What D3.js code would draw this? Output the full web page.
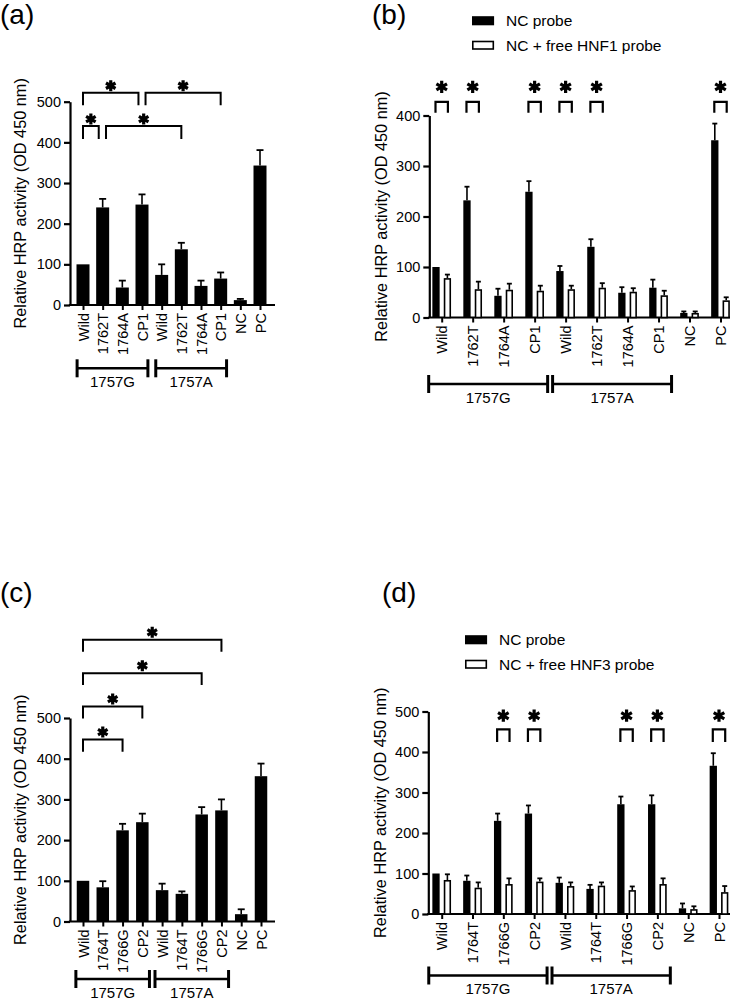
<!DOCTYPE html>
<html>
<head>
<meta charset="utf-8">
<script src="https://d3js.org/d3.v7.min.js"></script>
<style>
body { margin: 0; background: #fff; }
svg { display: block; font-family: "Liberation Sans", Arial, sans-serif; }
</style>
</head>
<body>
<svg id="chart" width="735" height="999"></svg>
<script>
/*
Values (relative HRP activity, OD 450 nm).
 */
var catsA = ["Wild", "1762T", "1764A", "CP1", "Wild", "1762T", "1764A", "CP1", "NC", "PC"];
var valsA = [100, 240, 43, 247, 74, 137, 47, 65, 12, 343];
var errA  = [0, 21, 17, 25, 26, 16, 13, 15, 3, 38];
// [from, to, bracket level, drop end] in category index / data units
var sigA  = [[0, 2.82, 522, 491], [3.18, 7, 522, 491], [0, 0.8, 440, 408], [1.17, 5, 440, 408]];

var catsB    = ["Wild", "1762T", "1764A", "CP1", "Wild", "1762T", "1764A", "CP1", "NC", "PC"];
var ncB      = [100, 232, 43, 249, 92, 140, 49, 59, 9, 351];
var ncErrB   = [0, 27, 14, 21, 10, 15, 11, 16, 3, 33];
var freeB    = [78, 56, 55, 53, 56, 59, 51, 44, 9, 34];
var freeErrB = [7, 15, 12, 10, 7, 9, 7, 9, 3, 6];
var sigB     = [0, 1, 3, 4, 5, 9];
var legendB  = ["NC probe", "NC + free HNF1 probe"];

var catsC = ["Wild", "1764T", "1766G", "CP2", "Wild", "1764T", "1766G", "CP2", "NC", "PC"];
var valsC = [100, 84, 224, 244, 77, 68, 263, 273, 18, 357];
var errC  = [0, 15, 16, 21, 16, 6, 18, 27, 12, 31];
var sigC  = [[0, 2, 447, 417], [0, 3, 528, 499], [0, 6, 610, 581], [0, 7, 692, 663]];

var catsD    = ["Wild", "1764T", "1766G", "CP2", "Wild", "1764T", "1766G", "CP2", "NC", "PC"];
var ncD      = [100, 82, 230, 248, 77, 62, 271, 271, 14, 366];
var ncErrD   = [0, 13, 18, 20, 13, 10, 19, 22, 12, 31];
var freeD    = [84, 65, 74, 80, 69, 70, 59, 74, 12, 54];
var freeErrD = [14, 13, 14, 8, 9, 8, 9, 14, 7, 15];
var sigD     = [2, 3, 6, 7, 9];
var legendD  = ["NC probe", "NC + free HNF3 probe"];

var groupNames = ["1757G", "1757A"];
var groupSpans = [[0, 3], [4, 7]];
var ticks500 = [0, 100, 200, 300, 400, 500];
var ticks400 = [0, 100, 200, 300, 400];
var yTitle = "Relative HRP activity (OD 450 nm)";

/*
Layout of each panel in pixels.
 */
var boxA = {tag: "(a)", tagX: 0, tagY: 24, x0: 70, x1: 275, cx: [83, 260], yBase: 305, yTop: 101.7,
            titleX: 20, groupY: 368.3, groupPad: 0.3, barW: 13, star: 85, starUp: 7};
var boxB = {tag: "(b)", tagX: 372, tagY: 24, x0: 429.3, x1: 730, cx: [441.7, 720.5], yBase: 317.5, yTop: 115.5,
            titleX: 381.5, groupY: 384, groupPad: 0.42, barW: 7.3, off: 5.7, star: 105, starUp: 15,
            legX: 472, legY: 21, sigTop: 427, sigDrop: 405.5};
var boxC = {tag: "(c)", tagX: 0, tagY: 602, x0: 70, x1: 275, cx: [83, 261], yBase: 921.5, yTop: 718,
            titleX: 20, groupY: 979, groupPad: 0.36, barW: 12.5, star: 85, starUp: 7.5};
var boxD = {tag: "(d)", tagX: 382, tagY: 602, x0: 428.3, x1: 730, cx: [441.7, 719], yBase: 914, yTop: 711.5,
            titleX: 380, groupY: 975.5, groupPad: 0.42, barW: 7.3, off: 5.7, star: 105, starUp: 13.6,
            legX: 465, legY: 640, sigTop: 456, sigDrop: 425};

var svg = d3.select("#chart");

/*
Axes, titles and group brackets shared by every panel.
 */
function drawFrame(box, cats, ymax, ticks) {
    var g = svg.append("g");
    var y = d3.scaleLinear().domain([0, ymax]).range([box.yBase, box.yTop]);
    var x = d3.scaleLinear().domain([0, cats.length - 1]).range(box.cx);

    g.append("text").attr("x", box.tagX).attr("y", box.tagY)
        .style("font-size", "28px").text(box.tag);

    var ya = g.append("g").attr("transform", "translate(" + box.x0 + ",0)")
        .call(d3.axisLeft(y).tickValues(ticks).tickSize(6).tickPadding(3).tickSizeOuter(0));
    ya.select(".domain").attr("stroke-width", 2.2);
    ya.selectAll(".tick line").attr("stroke-width", 2.2);
    ya.selectAll("text").style("font-size", "14.5px").attr("fill", "#000");

    var xa = g.append("g").attr("transform", "translate(0," + box.yBase + ")")
        .call(d3.axisBottom(x).tickValues(d3.range(cats.length))
            .tickFormat(function(i) { return cats[i]; }).tickSize(5).tickSizeOuter(0));
    xa.select(".domain").remove();
    xa.selectAll(".tick line").attr("stroke-width", 2);
    xa.selectAll("text")
        .attr("transform", "rotate(-90)")
        .attr("x", -8).attr("y", 0).attr("dy", "0.35em")
        .attr("text-anchor", "end")
        .style("font-size", "14.5px").attr("fill", "#000");
    g.append("line")
        .attr("x1", box.x0 - 1.1).attr("x2", box.x1)
        .attr("y1", box.yBase).attr("y2", box.yBase)
        .attr("stroke", "#000").attr("stroke-width", 2.2);

    g.append("text")
        .attr("transform", "translate(" + box.titleX + "," + ((box.yBase + box.yTop) / 2) + ") rotate(-90)")
        .attr("text-anchor", "middle").attr("dy", "0.35em")
        .style("font-size", "16.3px").text(yTitle);

    //Group brackets under the tick labels
    groupSpans.forEach(function(s, k) {
        var a = x(s[0] - box.groupPad), b = x(s[1] + box.groupPad);
        g.append("line").attr("x1", a).attr("x2", b)
            .attr("y1", box.groupY).attr("y2", box.groupY)
            .attr("stroke", "#000").attr("stroke-width", 2.5);
        [a, b].forEach(function(px) {
            g.append("line").attr("x1", px).attr("x2", px)
                .attr("y1", box.groupY - 9).attr("y2", box.groupY + 9)
                .attr("stroke", "#000").attr("stroke-width", 3);
        });
        g.append("text").attr("x", (a + b) / 2).attr("y", box.groupY + 18.5)
            .attr("text-anchor", "middle").style("font-size", "15px").text(groupNames[k]);
    });

    return {g: g, x: x, y: y};
}

function errorBar(g, cx, y, v, e, cap) {
    if (!e) return;
    g.append("line").attr("x1", cx).attr("x2", cx).attr("y1", y(v)).attr("y2", y(v + e))
        .attr("stroke", "#000").attr("stroke-width", 1.6);
    g.append("line").attr("x1", cx - cap / 2).attr("x2", cx + cap / 2).attr("y1", y(v + e)).attr("y2", y(v + e))
        .attr("stroke", "#000").attr("stroke-width", 1.8);
}

function star(g, px, py, size) {
    g.append("path")
        .attr("transform", "translate(" + px + "," + py + ")")
        .attr("d", d3.symbol(d3.symbolAsterisk, size)())
        .attr("fill", "none").attr("stroke", "#000").attr("stroke-width", 3.2);
}

/*
Single-series panels (a) and (c).
 */
function drawSingle(box, cats, vals, errs, sigs) {
    var f = drawFrame(box, cats, 500, ticks500);
    var g = f.g, x = f.x, y = f.y;

    g.selectAll("rect.bar").data(vals).enter().append("rect")
        .attr("x", function(d, i) { return x(i) - box.barW / 2; })
        .attr("y", function(d) { return y(d); })
        .attr("width", box.barW)
        .attr("height", function(d) { return y(0) - y(d); })
        .attr("fill", "#000");
    vals.forEach(function(v, i) { errorBar(g, x(i), y, v, errs[i], 7); });

    sigs.forEach(function(s) {
        var a = x(s[0]), b = x(s[1]);
        g.append("path")
            .attr("d", "M" + a + "," + y(s[3]) + "V" + y(s[2]) + "H" + b + "V" + y(s[3]))
            .attr("fill", "none").attr("stroke", "#000").attr("stroke-width", 2);
        star(g, (a + b) / 2, y(s[2]) - box.starUp, box.star);
    });
}

/*
Paired panels (b) and (d): NC probe vs NC + free probe.
 */
function drawPaired(box, cats, nc, ncErr, free, freeErr, sigs, legend, ymax, ticks) {
    var f = drawFrame(box, cats, ymax, ticks);
    var g = f.g, x = f.x, y = f.y;

    g.selectAll("rect.nc").data(nc).enter().append("rect")
        .attr("x", function(d, i) { return x(i) - box.off - box.barW / 2; })
        .attr("y", function(d) { return y(d); })
        .attr("width", box.barW)
        .attr("height", function(d) { return y(0) - y(d); })
        .attr("fill", "#000");
    g.selectAll("rect.free").data(free).enter().append("rect")
        .attr("x", function(d, i) { return x(i) + box.off - box.barW / 2 + 0.8; })
        .attr("y", function(d) { return y(d) + 0.8; })
        .attr("width", box.barW - 1.6)
        .attr("height", function(d) { return y(0) - y(d) - 0.8; })
        .attr("fill", "#fff").attr("stroke", "#000").attr("stroke-width", 1.6);
    nc.forEach(function(v, i) { errorBar(g, x(i) - box.off, y, v, ncErr[i], 5); });
    free.forEach(function(v, i) { errorBar(g, x(i) + box.off, y, v, freeErr[i], 5); });

    sigs.forEach(function(i) {
        var a = x(i) - box.off - 0.5, b = x(i) + box.off + 0.5;
        g.append("path")
            .attr("d", "M" + a + "," + y(box.sigDrop) + "V" + y(box.sigTop) + "H" + b + "V" + y(box.sigDrop))
            .attr("fill", "none").attr("stroke", "#000").attr("stroke-width", 2.2);
        star(g, x(i), y(box.sigTop) - box.starUp, box.star);
    });

    //Legend
    legend.forEach(function(name, k) {
        var ly = box.legY + k * 24.5;
        g.append("rect").attr("x", box.legX + 0.8).attr("y", ly - 4).attr("width", 20.5).attr("height", 7.5)
            .attr("fill", k === 0 ? "#000" : "#fff").attr("stroke", "#000").attr("stroke-width", 1.6);
        g.append("text").attr("x", box.legX + 34).attr("y", ly).attr("dy", "0.35em")
            .style("font-size", "15.5px").text(name);
    });
}

drawSingle(boxA, catsA, valsA, errA, sigA);
drawPaired(boxB, catsB, ncB, ncErrB, freeB, freeErrB, sigB, legendB, 400, ticks400);
drawSingle(boxC, catsC, valsC, errC, sigC);
drawPaired(boxD, catsD, ncD, ncErrD, freeD, freeErrD, sigD, legendD, 500, ticks500);
</script>
</body>
</html>
